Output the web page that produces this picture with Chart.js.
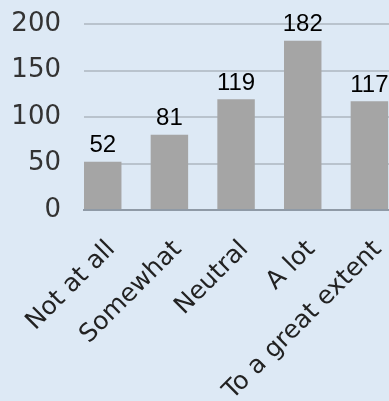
<!DOCTYPE html>
<html>
<head>
<meta charset="utf-8">
<script src="https://cdn.jsdelivr.net/npm/chart.js@4"></script>
<style>
  html, body { margin: 0; padding: 0; background: #dde9f5; overflow: hidden; }
  #wrap { width: 389px; height: 401px; }
</style>
</head>
<body>
<div id="wrap"><canvas id="chart"></canvas></div>
<script>
const categories = ['Not at all', 'Somewhat', 'Neutral', 'A lot', 'To a great extent'];
const counts = [52, 81, 119, 182, 117];
const yTicks = [0, 50, 100, 150, 200];

// value labels above each bar
const valueLabels = {
    id: 'valueLabels',
    afterDatasetsDraw(chart) {
        const ctx = chart.ctx;
        const meta = chart.getDatasetMeta(0);
        ctx.save();
        ctx.font = '24px "Liberation Sans", Arial, sans-serif';
        ctx.fillStyle = '#000';
        ctx.textAlign = 'center';
        ctx.textBaseline = 'bottom';
        meta.data.forEach((bar, i) => {
            ctx.fillText(String(counts[i]), bar.x, bar.y - 4);
        });
        ctx.restore();
    }
};

new Chart(document.getElementById('chart'), {
    type: 'bar',
    data: {
        datasets: [{
            data: counts.map((v, i) => ({ x: i, y: v })),
            backgroundColor: '#a5a5a5',
            borderWidth: 0,
            categoryPercentage: 1,
            barPercentage: 0.562
        }]
    },
    options: {
        responsive: true,
        maintainAspectRatio: false,
        animation: false,
        layout: { padding: { top: 24, right: 0, bottom: 0, left: 8 } },
        plugins: { legend: { display: false }, tooltip: { enabled: false } },
        scales: {
            x: {
                type: 'linear',
                offset: false,
                min: -0.281,
                max: 4.294,
                grid: { display: false, drawTicks: false, offset: false },
                border: { color: '#8f9aa6', width: 2 },
                afterBuildTicks(axis) {
                    axis.ticks = categories.map((c, i) => ({ value: i }));
                },
                afterFit(axis) {
                    axis.height = 191;
                    axis.paddingLeft = 0;
                    axis.paddingRight = 0;
                },
                ticks: {
                    autoSkip: false,
                    minRotation: 45,
                    maxRotation: 45,
                    padding: 27,
                    color: '#222',
                    showLabelBackdrop: true,
                    backdropColor: 'transparent',
                    font: { family: '"DejaVu Sans"', size: 25, lineHeight: 0.96 },
                    callback: (v) => categories[v]
                }
            },
            y: {
                min: 0,
                max: 200,
                afterBuildTicks(axis) {
                    axis.ticks = yTicks.map(v => ({ value: v }));
                },
                afterFit(axis) {
                    axis.width = 76;
                    axis.paddingTop = 0;
                    axis.paddingBottom = 0;
                },
                grid: { color: '#b9c3cd', lineWidth: 2, drawTicks: false },
                border: { display: false },
                ticks: {
                    padding: 23,
                    color: '#333',
                    font: { family: '"DejaVu Sans"', size: 26 }
                }
            }
        }
    },
    plugins: [valueLabels]
});
</script>
</body>
</html>
